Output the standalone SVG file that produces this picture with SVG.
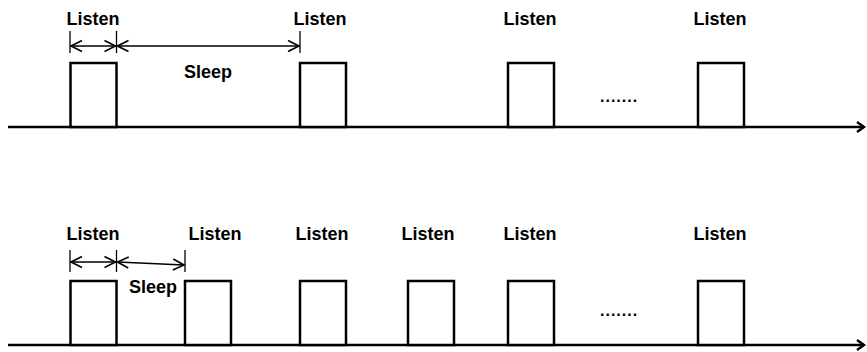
<svg xmlns="http://www.w3.org/2000/svg" width="867" height="352" viewBox="0 0 867 352">
<style>
.lbl{font-family:"Liberation Sans",Arial,sans-serif;font-weight:bold;font-size:18px;fill:#000;text-anchor:middle}
.dots{font-family:"Liberation Sans",Arial,sans-serif;font-weight:bold;font-size:16px;fill:#000;letter-spacing:1px}
.pulse{fill:#fff;stroke:#000;stroke-width:2.5}
.axis{stroke:#000;stroke-width:2.5;fill:none}
.tick{stroke:#000;stroke-width:1.3}
.dim{stroke:#000;stroke-width:1.3;fill:none}
</style>
<defs>
<marker id="ah" markerWidth="14" markerHeight="14" refX="12" refY="7" orient="auto-start-reverse" markerUnits="userSpaceOnUse">
<path d="M1,1.5 L12,7 L1,12.5" fill="none" stroke="#000" stroke-width="1.6"/>
</marker>
<marker id="axh" markerWidth="14" markerHeight="14" refX="10" refY="7" orient="auto" markerUnits="userSpaceOnUse">
<path d="M3,2 L10,7 L3,12" fill="none" stroke="#000" stroke-width="2.5"/>
</marker>
</defs>
<g id="connectors">
<line class="axis" x1="8" y1="127" x2="864" y2="127" marker-end="url(#axh)"/>
<line class="axis" x1="8" y1="345" x2="864" y2="345" marker-end="url(#axh)"/>
<line class="tick" x1="70" y1="31" x2="70" y2="53"/>
<line class="tick" x1="116.5" y1="31" x2="116.5" y2="53"/>
<line class="tick" x1="300" y1="31" x2="300" y2="53"/>
<line class="dim" x1="71" y1="46" x2="115.5" y2="46" marker-start="url(#ah)" marker-end="url(#ah)"/>
<line class="dim" x1="117.5" y1="46" x2="299" y2="46" marker-start="url(#ah)" marker-end="url(#ah)"/>
<line class="tick" x1="70" y1="250" x2="70" y2="272"/>
<line class="tick" x1="116.5" y1="250" x2="116.5" y2="272"/>
<line class="tick" x1="185" y1="250" x2="185" y2="272"/>
<line class="dim" x1="71" y1="262" x2="115.5" y2="262" marker-start="url(#ah)" marker-end="url(#ah)"/>
<line class="dim" x1="117.5" y1="262" x2="184" y2="265" marker-start="url(#ah)" marker-end="url(#ah)"/>
</g>
<g id="top-pulse-1"><rect class="pulse" x="70.5" y="63" width="46" height="64"/><text class="lbl" x="93" y="25">Listen</text></g>
<g id="top-pulse-2"><rect class="pulse" x="300" y="63" width="46" height="64"/><text class="lbl" x="320" y="25">Listen</text></g>
<g id="top-pulse-3"><rect class="pulse" x="508" y="63" width="46" height="64"/><text class="lbl" x="530" y="25">Listen</text></g>
<g id="top-pulse-4"><rect class="pulse" x="698" y="63" width="46" height="64"/><text class="lbl" x="720" y="25">Listen</text></g>
<g id="top-sleep"><text class="lbl" x="208" y="78">Sleep</text></g>
<g id="top-dots"><text class="dots" x="600" y="102">.......</text></g>
<g id="bot-pulse-1"><rect class="pulse" x="70.5" y="281" width="46" height="64"/><text class="lbl" x="93" y="240">Listen</text></g>
<g id="bot-pulse-2"><rect class="pulse" x="185" y="281" width="46" height="64"/><text class="lbl" x="215" y="240">Listen</text></g>
<g id="bot-pulse-3"><rect class="pulse" x="300" y="281" width="46" height="64"/><text class="lbl" x="322" y="240">Listen</text></g>
<g id="bot-pulse-4"><rect class="pulse" x="408" y="281" width="46" height="64"/><text class="lbl" x="428" y="240">Listen</text></g>
<g id="bot-pulse-5"><rect class="pulse" x="508" y="281" width="46" height="64"/><text class="lbl" x="530" y="240">Listen</text></g>
<g id="bot-pulse-6"><rect class="pulse" x="698" y="281" width="46" height="64"/><text class="lbl" x="720" y="240">Listen</text></g>
<g id="bot-sleep"><text class="lbl" x="153" y="293">Sleep</text></g>
<g id="bot-dots"><text class="dots" x="600" y="316">.......</text></g>
</svg>
